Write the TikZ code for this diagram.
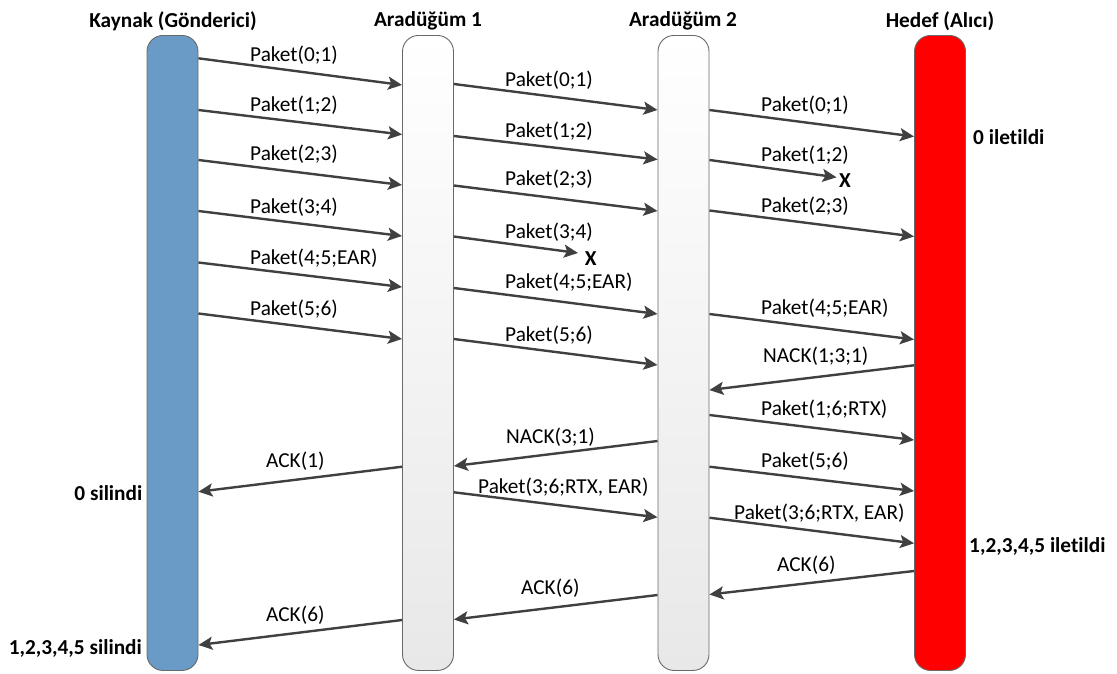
\documentclass[tikz,border=0pt]{standalone}
\usepackage{fontspec}
\setmainfont{Carlito}[Ligatures={NoCommon,NoContextual},RawFeature={-liga;-clig;-calt}]
\usetikzlibrary{arrows.meta}
\definecolor{srcblue}{RGB}{106,155,199}
\definecolor{dstred}{RGB}{255,0,0}
\definecolor{edgegray}{RGB}{105,105,105}
\definecolor{arrowgray}{RGB}{64,64,64}
\begin{document}
\begin{tikzpicture}[x=1pt,y=-1pt,
  lane/.style={draw=edgegray, line width=0.9pt, rounded corners=16pt,
    minimum width=51pt, minimum height=635pt, anchor=north, inner sep=0pt},
  relay/.style={lane, top color=white, bottom color=black!9},
  msg/.style={draw=arrowgray, line width=2.4pt,
    -{Stealth[length=14pt,width=13pt,inset=3pt]}},
  txt/.style={inner sep=0pt, font=\fontsize{21.3pt}{25pt}\selectfont},
  lbl/.style={txt, anchor=west},
  head/.style={txt, font=\fontsize{21.3pt}{25pt}\selectfont\bfseries},
  note/.style={txt, font=\fontsize{21.3pt}{25pt}\selectfont\bfseries},
  lost/.style={txt, font=\fontsize{21.3pt}{25pt}\selectfont\bfseries}
]
\useasboundingbox (0,0) rectangle (1117,673);

% the four stations
\node[lane, fill=srcblue] (k) at (172.5,35) {};
\node[relay] (a1) at (428,35) {};
\node[relay] (a2) at (683.5,35) {};
\node[lane, fill=dstred] (h) at (940,35) {};

% headings
\node[head] (hk) at (173,21) {Kaynak (Gönderici)};
\node[head] (ha1) at (428,21) {Aradüğüm 1};
\node[head] (ha2) at (683,21) {Aradüğüm 2};
\node[head] (hh) at (940,21) {Hedef (Alıcı)};

% source -> relay 1
\draw[msg] (k.east |- 0,58.3) -- (a1.west |- 0,85);
\draw[msg] (k.east |- 0,110) -- (a1.west |- 0,134.5);
\draw[msg] (k.east |- 0,160) -- (a1.west |- 0,185);
\draw[msg] (k.east |- 0,211) -- (a1.west |- 0,236);
\draw[msg] (k.east |- 0,262.5) -- (a1.west |- 0,287);
\draw[msg] (k.east |- 0,313.5) -- (a1.west |- 0,339);
\node[lbl] (l11) at (250,55.5) {Paket(0;1)};
\node[lbl] (l12) at (250,105.5) {Paket(1;2)};
\node[lbl] (l13) at (250,154) {Paket(2;3)};
\node[lbl] (l14) at (250,207) {Paket(3;4)};
\node[lbl] (l15) at (250,258) {Paket(4;5;EAR)};
\node[lbl] (l16) at (250,309) {Paket(5;6)};

% relay 1 -> relay 2
\coordinate (d1) at (578,253);
\draw[msg] (a1.east |- 0,84) -- (a2.west |- 0,110);
\draw[msg] (a1.east |- 0,136) -- (a2.west |- 0,159.5);
\draw[msg] (a1.east |- 0,185.5) -- (a2.west |- 0,211);
\draw[msg] (a1.east |- 0,236.5) -- (d1);
\draw[msg] (a1.east |- 0,288) -- (a2.west |- 0,314);
\draw[msg] (a1.east |- 0,339) -- (a2.west |- 0,365);
\node[lbl] (l21) at (505,80) {Paket(0;1)};
\node[lbl] (l22) at (505,131) {Paket(1;2)};
\node[lbl] (l23) at (505,179) {Paket(2;3)};
\node[lbl] (l24) at (505,232.5) {Paket(3;4)};
\node[lbl] (l25) at (505,282) {Paket(4;5;EAR)};
\node[lbl] (l26) at (505,335) {Paket(5;6)};
\node[lost] (x1) at (590.7,258.5) {X};

% relay 2 -> destination
\coordinate (d2) at (836.5,177.3);
\draw[msg] (a2.east |- 0,110) -- (h.west |- 0,136.5);
\draw[msg] (a2.east |- 0,160) -- (d2);
\draw[msg] (a2.east |- 0,210.5) -- (h.west |- 0,236.5);
\draw[msg] (a2.east |- 0,314) -- (h.west |- 0,339.5);
\node[lbl] (l31) at (761,105) {Paket(0;1)};
\node[lbl] (l32) at (761,155) {Paket(1;2)};
\node[lbl] (l33) at (761,206.5) {Paket(2;3)};
\node[lbl] (l34) at (761,308.5) {Paket(4;5;EAR)};
\node[lost] (x2) at (845,180.5) {X};

% recovery phase
\draw[msg] (h.west |- 0,365.3) -- (a2.east |- 0,390);
\node[lbl] (n1) at (763,356) {NACK(1;3;1)};
\draw[msg] (a2.east |- 0,415) -- (h.west |- 0,440);
\node[lbl] (r1) at (761,409.5) {Paket(1;6;RTX)};
\draw[msg] (a2.west |- 0,441) -- (a1.east |- 0,466);
\node[lbl] (n2) at (506,437) {NACK(3;1)};
\draw[msg] (a1.west |- 0,466.7) -- (k.east |- 0,491.7);
\node[lbl] (ack1) at (266,461) {ACK(1)};
\draw[msg] (a2.east |- 0,466.7) -- (h.west |- 0,491);
\node[lbl] (r2) at (761,461.5) {Paket(5;6)};
\draw[msg] (a1.east |- 0,492.3) -- (a2.west |- 0,517.3);
\node[lbl] (r3) at (478,487) {Paket(3;6;RTX, EAR)};
\draw[msg] (a2.east |- 0,517.7) -- (h.west |- 0,543.3);
\node[lbl] (r4) at (734,512.7) {Paket(3;6;RTX, EAR)};
\draw[msg] (h.west |- 0,571) -- (a2.east |- 0,594.5);
\node[lbl] (ack2) at (777,565) {ACK(6)};
\draw[msg] (a2.west |- 0,595) -- (a1.east |- 0,619.5);
\node[lbl] (ack3) at (521,588) {ACK(6)};
\draw[msg] (a1.west |- 0,620) -- (k.east |- 0,645);
\node[lbl] (ack4) at (266,615) {ACK(6)};

% delivery and deletion notes
\node[note, anchor=west] (s1) at (973,137) {0 iletildi};
\node[note, anchor=west] (s2) at (969,546) {1,2,3,4,5 iletildi};
\node[note, anchor=east] (s3) at (142.5,493) {0 silindi};
\node[note, anchor=east] (s4) at (142,648) {1,2,3,4,5 silindi};
\end{tikzpicture}
\end{document}
